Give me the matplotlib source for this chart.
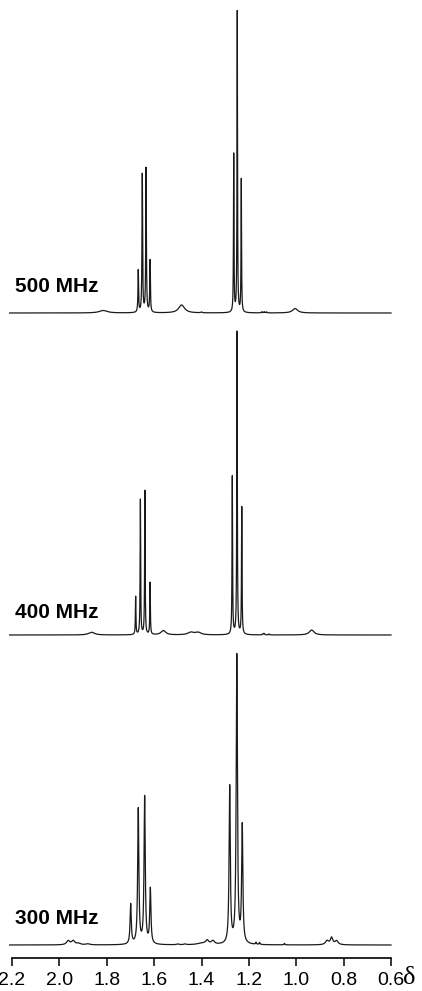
import numpy as np
import matplotlib
matplotlib.use("Agg")
import matplotlib.pyplot as plt

# ===== peak tables =====
# shift (ppm), height (arbitrary, ~px), half width (ppm)
labels = ["500 MHz", "400 MHz", "300 MHz"]

shift_500 = [1.815, 1.667, 1.650, 1.634, 1.617, 1.484, 1.400,
             1.264, 1.249, 1.232, 1.145, 1.135, 1.125, 1.005]
height_500 = [2.5, 42, 138, 144, 52, 8, 0.8,
              158, 301, 133, 1.2, 1.2, 1.0, 4.5]
width_500 = [0.02, 0.0015, 0.0015, 0.0015, 0.0015, 0.015, 0.003,
             0.0012, 0.0012, 0.0012, 0.002, 0.002, 0.002, 0.013]

shift_400 = [1.864, 1.678, 1.658, 1.639, 1.617, 1.561, 1.445, 1.415,
             1.270, 1.250, 1.230, 1.140, 1.135, 1.115, 0.935]
height_400 = [2.7, 38, 135, 144, 52, 4.3, 2.5, 2.5,
              158, 303, 127, 1.3, 1.3, 1.0, 5]
width_400 = [0.015, 0.0013, 0.0013, 0.0013, 0.0013, 0.012, 0.015, 0.015,
             0.0013, 0.0013, 0.0013, 0.002, 0.002, 0.002, 0.012]

shift_300 = [1.963, 1.942, 1.920, 1.880, 1.699, 1.667, 1.640, 1.616,
             1.500, 1.470, 1.400, 1.376, 1.352, 1.281, 1.251, 1.228,
             1.170, 1.155, 1.050, 0.870, 0.851, 0.830]
height_300 = [4, 4, 1.5, 1, 40, 135, 147, 55,
              0.8, 0.8, 1.5, 4, 3.5, 157, 288, 117,
              2, 2, 1.5, 4, 7, 4]
width_300 = [0.008, 0.008, 0.01, 0.01, 0.003, 0.003, 0.003, 0.003,
             0.005, 0.005, 0.02, 0.008, 0.008, 0.003, 0.003, 0.003,
             0.002, 0.002, 0.002, 0.008, 0.006, 0.008]

ticks = [2.2, 2.0, 1.8, 1.6, 1.4, 1.2, 1.0, 0.8, 0.6]
tick_labels = ["2.2", "2.0", "1.8", "1.6", "1.4", "1.2", "1.0", "0.8", "0.6"]

# layout (pixels of the 422x991 image)
W, H = 422, 991
offsets = [645, 323, 13]
label_y = [287, 612, 918]


def spectrum(ppm, shifts, heights, widths):
    y = np.zeros_like(ppm)
    for s, h, w in zip(shifts, heights, widths):
        y += h * w ** 2 / ((ppm - s) ** 2 + w ** 2)
    return y


ppm = np.linspace(2.21, 0.6, 16001)
spectra = [
    spectrum(ppm, shift_500, height_500, width_500),
    spectrum(ppm, shift_400, height_400, width_400),
    spectrum(ppm, shift_300, height_300, width_300),
]

fig = plt.figure(figsize=(W / 100, H / 100), dpi=100)
ax = fig.add_axes([12 / W, (H - 958) / H, 379 / W, 958 / H])

for y, off in zip(spectra, offsets):
    ax.plot(ppm, y + off, color="#1a1a1a", lw=0.9, clip_on=False)

ax.set_xlim(2.2, 0.6)
ax.set_ylim(0, 958)
for side in ["top", "right", "left"]:
    ax.spines[side].set_visible(False)
ax.spines["bottom"].set_linewidth(1.2)
ax.set_yticks([])
ax.set_xticks(ticks)
ax.set_xticklabels(tick_labels, fontfamily="Liberation Sans", fontsize=14)
ax.tick_params(axis="x", direction="out", length=6, width=1.1, pad=4)

for lab, ly in zip(labels, label_y):
    fig.text(15 / W, 1 - ly / H, lab, fontfamily="Liberation Sans",
             fontweight="bold", fontsize=15, va="center", ha="left")

fig.text(403 / W, 1 - 978 / H, "δ", fontfamily="Liberation Serif",
         fontsize=19, va="center", ha="left")

fig.savefig("out.png", dpi=100)
